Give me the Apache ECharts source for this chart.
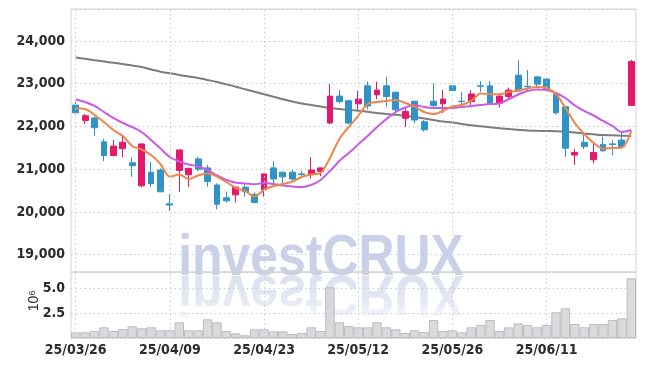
<!DOCTYPE html>
<html><head><meta charset="utf-8">
<script src="https://cdn.jsdelivr.net/npm/echarts@6/dist/echarts.min.js"></script>
<style>html,body{margin:0;padding:0;background:#fff}#c{width:645px;height:366px}</style>
</head><body><div id="c"></div>
<script>
const dates = ['25/03/26','25/03/27','25/03/28','25/03/31','25/04/01','25/04/02','25/04/03','25/04/04','25/04/07','25/04/08',
'25/04/09','25/04/10','25/04/11','25/04/14','25/04/15','25/04/16','25/04/17','25/04/18','25/04/21','25/04/22',
'25/04/23','25/04/24','25/04/25','25/04/28','25/04/29','25/04/30','25/05/02','25/05/07','25/05/08','25/05/09',
'25/05/12','25/05/13','25/05/14','25/05/15','25/05/16','25/05/19','25/05/20','25/05/21','25/05/22','25/05/23',
'25/05/26','25/05/27','25/05/28','25/05/29','25/05/30','25/06/02','25/06/04','25/06/05','25/06/09','25/06/10',
'25/06/11','25/06/12','25/06/13','25/06/16','25/06/17','25/06/18','25/06/19','25/06/20','25/06/23','25/06/24'];

const openP  = [22500,22140,22200,21640,21320,21480,21150,20610,20930,20980,
20190,20970,20870,21240,21030,20630,20330,20400,20580,20410,
20520,21030,20930,20930,20890,20880,20950,22080,22710,22600,
22530,22950,22740,22950,22800,22190,22590,22110,22590,22530,
22950,22590,22580,22950,22950,22540,22700,23200,22940,23160,
23110,22760,22460,21330,21630,21220,21580,21590,21680,22490];
const closeP = [22320,22250,21970,21320,21540,21630,21080,21590,20660,20470,
20160,21450,21020,21000,20710,20180,20260,20580,20470,20220,
20890,20770,20820,20770,20880,20980,21030,22710,22580,22080,
22640,22480,22850,22700,22390,22350,22150,21920,22490,22640,
22840,22580,22760,22940,22540,22710,22850,22830,22930,22990,
22870,22320,21490,21390,21530,21390,21430,21580,21530,23520];
const lowP   = [22270,22050,21780,21190,21300,21280,20820,20580,20580,20470,
20020,20470,20580,20960,20590,20060,20220,20220,20360,20200,
20360,20670,20670,20740,20820,20780,20840,22050,22540,22050,
22390,22400,22640,22460,22320,21990,22070,21880,22460,22310,
22820,22430,22500,22810,22520,22440,22640,22810,22850,22930,
22810,22280,21290,21100,21470,21140,21410,21330,21490,22480];
const highP  = [22580,22290,22230,21710,21680,21800,21280,21600,21170,21020,
20410,21460,21030,21290,21100,20670,20470,20590,20670,20460,
20900,21180,20940,20980,20960,21280,21040,22990,22850,22630,
22830,23050,23050,23160,22810,22460,22600,22150,23010,22850,
22960,22810,22850,23060,23060,22770,22910,23550,23320,23170,
23120,22770,22470,21470,21840,21610,21760,21680,21890,23560];
const ma5 = [22425,22408,22268,22104,21917,21777,21543,21461,21332,21121,
20824,20876,20770,20852,20899,20829,20700,20560,20490,20361,
20513,20607,20653,20712,20817,20876,20911,21262,21706,21987,
22245,22525,22572,22596,22619,22549,22462,22338,22291,22362,
22467,22502,22596,22771,22752,22752,22806,22841,22888,22923,
22900,22759,22432,22081,21823,21613,21484,21496,21507,21894];
const ma10 = [22631,22572,22479,22338,22198,22081,21987,21870,21683,21484,
21285,21180,21110,21063,20981,20852,20747,20684,20665,20646,
20677,20653,20618,20595,20583,20630,20747,20958,21192,21379,
21578,21777,21987,22174,22338,22443,22502,22455,22432,22432,
22432,22455,22479,22502,22525,22537,22642,22748,22830,22865,
22853,22783,22666,22490,22362,22256,22128,22011,21870,21917];
const maLong = [23613,23583,23550,23520,23489,23461,23426,23391,23333,23281,
23244,23204,23169,23134,23087,23040,22986,22930,22869,22811,
22752,22694,22638,22584,22537,22502,22467,22432,22408,22385,
22369,22343,22315,22291,22273,22249,22221,22186,22151,22116,
22092,22057,22027,22004,21980,21957,21940,21922,21905,21898,
21894,21887,21877,21858,21835,21816,21800,21793,21784,21777];
const volume = [0.57,0.57,0.70,1.07,0.70,0.90,1.17,0.97,1.07,0.77,
0.77,1.57,0.77,0.77,1.87,1.57,0.70,0.47,0.27,0.87,
0.87,0.67,0.67,0.40,0.50,1.07,0.70,5.07,1.57,1.20,
1.07,1.07,1.57,1.07,0.87,0.50,0.77,0.60,1.80,0.70,
0.77,0.57,1.07,1.30,1.80,0.70,1.07,1.47,1.30,1.07,
1.30,2.57,2.97,1.40,1.07,1.40,1.40,1.80,1.97,5.97]; // millions
const yTicks = [19000,20000,21000,22000,23000,24000];
const volTicks = [2.5,5.0];
const labelDates = dates.filter((d,i)=>i%10===0);

const FONT = "'DejaVu Sans Condensed','Liberation Sans',sans-serif";
const WM_FONT = "bold 58px 'Liberation Sans', sans-serif";
const ohlc = dates.map((d,i)=>[openP[i],closeP[i],lowP[i],highP[i]]);
const gridLineStyle = {color:'#c9cad8', type:[1.5,3], width:1};
const vLines = (xi, yi) => ({type:'line', xAxisIndex:xi, yAxisIndex:yi, data:[], z:1, silent:true,
  markLine:{silent:true, symbol:'none', label:{show:false}, lineStyle:gridLineStyle, animation:false,
    data:labelDates.map(d=>({xAxis:d}))}});

const chart = echarts.init(document.getElementById('c'), null, {renderer:'canvas'});
chart.setOption({
  animation:false,
  backgroundColor:'#fff',
  grid:[
    {left:71, top:9, width:565, height:263, show:true, borderColor:'#d2d2d2', borderWidth:1},
    {left:71, top:272, width:565, height:66, show:true, borderColor:'#d2d2d2', borderWidth:1}
  ],
  xAxis:[
    {type:'category', gridIndex:0, data:dates, boundaryGap:true,
     axisLine:{show:false}, axisTick:{show:false}, axisLabel:{show:false}, splitLine:{show:false}},
    {type:'category', gridIndex:1, data:dates, boundaryGap:true,
     axisLine:{show:false}, axisTick:{show:false},
     axisLabel:{interval:9, margin:5, color:'#2b2b2b', fontSize:14, fontWeight:'bold', fontFamily:FONT},
     splitLine:{show:false}}
  ],
  yAxis:[
    {type:'value', gridIndex:0, min:18594, max:24748, scale:true,
     axisLine:{show:false}, axisTick:{show:false},
     axisLabel:{showMinLabel:false, showMaxLabel:false, margin:6, color:'#2b2b2b', fontSize:14, fontWeight:'bold', fontFamily:FONT,
       formatter:v=> yTicks.includes(v) ? v.toLocaleString('en-US') : ''},
     splitLine:{show:true, lineStyle:gridLineStyle}},
    {type:'value', gridIndex:1, min:0, max:6.6, interval:2.5,
     axisLine:{show:false}, axisTick:{show:false},
     axisLabel:{showMinLabel:false, showMaxLabel:false, margin:6, color:'#2b2b2b', fontSize:14, fontWeight:'bold', fontFamily:FONT,
       formatter:v=> volTicks.includes(v) ? v.toFixed(1) : ''},
     splitLine:{show:true, lineStyle:gridLineStyle}}
  ],
  graphic:[
    {type:'text', left:27, top:290, rotation:Math.PI/2, z:5,
     style:{text:'10⁶', fill:'#2b2b2b', font:"14px 'Liberation Sans', sans-serif"}},
    {type:'text', x:321, y:288, scaleX:0.86, z:-3, silent:true,
     style:{text:'investCRUX', fill:'#c9d0e7', font:WM_FONT, textAlign:'center', textVerticalAlign:'bottom'}},
    {type:'text', x:321, y:263, scaleX:0.86, scaleY:-1, z:-3, silent:true,
     style:{text:'investCRUX', font:WM_FONT, textAlign:'center', textVerticalAlign:'bottom', fill:'#dbe0ef'}},
    {type:'rect', z:-2, silent:true, shape:{x:150, y:274, width:340, height:50},
     style:{fill:{type:'linear', x:0, y:0, x2:0, y2:1, colorStops:[
       {offset:0, color:'rgba(255,255,255,0)'}, {offset:0.55, color:'rgba(255,255,255,0.3)'}, {offset:1, color:'rgba(255,255,255,0.9)'}]}}}
  ],
  series:[
    vLines(0,0), vLines(1,1),
    {type:'candlestick', xAxisIndex:0, yAxisIndex:0, data:ohlc, barWidth:'68%', z:3,
     itemStyle:{color:'#e5196c', color0:'#2f93c8', borderColor:'#e5196c', borderColor0:'#2f93c8', borderWidth:1}},
    {type:'line', xAxisIndex:0, yAxisIndex:0, data:maLong, symbol:'none', smooth:0.3, z:2,
     lineStyle:{color:'#7c7c7c', width:2}},
    {type:'line', xAxisIndex:0, yAxisIndex:0, data:ma10, symbol:'none', smooth:0.3, z:4,
     lineStyle:{color:'#c95ae6', width:2}},
    {type:'line', xAxisIndex:0, yAxisIndex:0, data:ma5, symbol:'none', smooth:0.3, z:4,
     lineStyle:{color:'#ee8549', width:2}},
    {type:'bar', xAxisIndex:1, yAxisIndex:1, data:volume, barWidth:'100%', z:3,
     itemStyle:{color:'rgba(212,212,215,0.85)', borderColor:'#bdbdc0', borderWidth:1}}
  ]
});
</script></body></html>
